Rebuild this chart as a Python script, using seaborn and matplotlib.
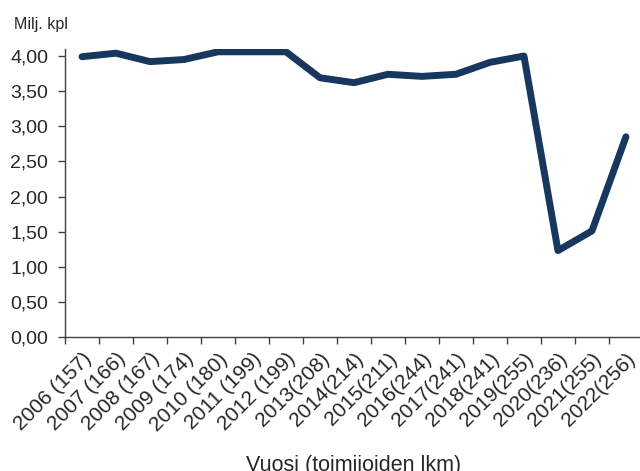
import matplotlib
matplotlib.use('Agg')
import matplotlib.pyplot as plt
import seaborn as sns
import pandas as pd
from matplotlib.ticker import FixedLocator, FuncFormatter

# data
vuodet = ['2006 (157)', '2007 (166)', '2008 (167)', '2009 (174)', '2010 (180)',
          '2011 (199)', '2012 (199)', '2013(208)', '2014(214)', '2015(211)',
          '2016(244)', '2017(241)', '2018(241)', '2019(255)', '2020(236)',
          '2021(255)', '2022(256)']
milj_kpl = [3.99, 4.04, 3.92, 3.95, 4.06, 4.06, 4.06, 3.69, 3.62, 3.74,
            3.71, 3.74, 3.91, 4.00, 1.23, 1.51, 2.85]
y_ticks = [0.0, 0.5, 1.0, 1.5, 2.0, 2.5, 3.0, 3.5, 4.0]

df = pd.DataFrame({'vuosi': vuodet, 'arvo': milj_kpl})

sns.set_style('ticks')
plt.rcParams['font.family'] = ['Liberation Sans', 'DejaVu Sans']

fig = plt.figure(figsize=(6.4, 4.71), dpi=100)
ax = fig.add_axes([0.1016, 0.2845, 0.903, 0.6115])

sns.lineplot(data=df, x='vuosi', y='arvo', sort=False, ax=ax,
             color='#17375e', linewidth=5, solid_capstyle='round',
             solid_joinstyle='round')

ax.set_xlim(-0.5, len(vuodet) - 0.5)
ax.set_ylim(0, 4.1)
ax.set_yticks(y_ticks)
ax.yaxis.set_major_formatter(FuncFormatter(lambda v, p: f'{v:.2f}'.replace('.', ',')))

# labels at category centres, tick marks between categories
ax.set_xticks(range(len(vuodet)))
ax.set_xticklabels(vuodet, rotation=45, ha='right', rotation_mode='anchor', fontsize=15)
ax.xaxis.set_minor_locator(FixedLocator([i - 0.5 for i in range(len(vuodet) + 1)]))
ax.tick_params(axis='x', which='major', length=0, pad=9)
ax.tick_params(axis='x', which='minor', length=5, width=1, color='#404040')
ax.tick_params(axis='y', length=5, width=1, color='#404040', labelsize=14, pad=7)

ax.set_xlabel('Vuosi (toimijoiden lkm)', fontsize=15.5, labelpad=15)
ax.set_ylabel('')
fig.text(14 / 640, 1 - 24 / 471, 'Milj. kpl', fontsize=11.5, ha='left', va='center')

for s in ['left', 'bottom']:
    ax.spines[s].set_color('#404040')
    ax.spines[s].set_linewidth(1)
sns.despine(ax=ax)

fig.savefig('out.png', dpi=100)
